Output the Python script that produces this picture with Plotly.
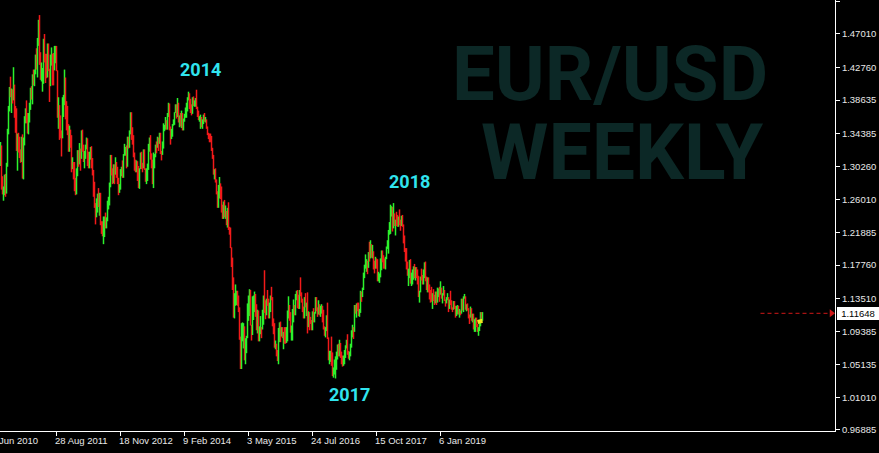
import plotly.graph_objects as go

# ---------------- data: EUR/USD weekly bars (open, high, low, close) ----------------
bars_2010 = [
    (1.3050, 1.3333, 1.3030, 1.3275), (1.3275, 1.3290, 1.2730, 1.2755), (1.2755, 1.2900, 1.2670, 1.2710),
    (1.2710, 1.2770, 1.2590, 1.2760), (1.2760, 1.2920, 1.2660, 1.2900), (1.2900, 1.2930, 1.2640, 1.2710),
    (1.2710, 1.3070, 1.2680, 1.3050), (1.3050, 1.3500, 1.3020, 1.3480), (1.3480, 1.3790, 1.3430, 1.3780),
    (1.3780, 1.4030, 1.3720, 1.3990), (1.3990, 1.4160, 1.3900, 1.3960), (1.3960, 1.4010, 1.3700, 1.3970),
    (1.3970, 1.4000, 1.3820, 1.3940), (1.3940, 1.4280, 1.3860, 1.4040), (1.4040, 1.4060, 1.3640, 1.3680),
    (1.3680, 1.3790, 1.3450, 1.3670), (1.3670, 1.3760, 1.3220, 1.3240), (1.3240, 1.3440, 1.2970, 1.3400),
    (1.3400, 1.3450, 1.3200, 1.3230), (1.3230, 1.3400, 1.3130, 1.3190), (1.3190, 1.3240, 1.3070, 1.3110),
    (1.3110, 1.3400, 1.3080, 1.3380),
]
bars_2011 = [
    (1.3380, 1.3430, 1.2870, 1.2910), (1.2910, 1.3390, 1.2860, 1.3380), (1.3380, 1.3660, 1.3290, 1.3610),
    (1.3610, 1.3760, 1.3570, 1.3630), (1.3630, 1.3860, 1.3570, 1.3580), (1.3580, 1.3700, 1.3440, 1.3490),
    (1.3490, 1.3700, 1.3430, 1.3690), (1.3690, 1.3830, 1.3580, 1.3750), (1.3750, 1.4020, 1.3740, 1.3990),
    (1.3990, 1.4040, 1.3870, 1.3900), (1.3900, 1.4190, 1.3810, 1.4180), (1.4180, 1.4250, 1.4050, 1.4090),
    (1.4090, 1.4250, 1.4040, 1.4230), (1.4230, 1.4440, 1.4190, 1.4440), (1.4440, 1.4520, 1.4250, 1.4430),
    (1.4430, 1.4650, 1.4150, 1.4580), (1.4580, 1.4880, 1.4550, 1.4810), (1.4810, 1.4940, 1.4310, 1.4320),
    (1.4320, 1.4470, 1.4120, 1.4130), (1.4130, 1.4340, 1.4100, 1.4140), (1.4140, 1.4270, 1.3970, 1.4250),
    (1.4250, 1.4640, 1.4070, 1.4640), (1.4640, 1.4700, 1.4340, 1.4350), (1.4350, 1.4450, 1.4080, 1.4310),
    (1.4310, 1.4450, 1.4140, 1.4180), (1.4180, 1.4580, 1.4150, 1.4530), (1.4530, 1.4580, 1.4230, 1.4260),
    (1.4260, 1.4260, 1.3840, 1.4150), (1.4150, 1.4440, 1.4040, 1.4390), (1.4390, 1.4530, 1.4300, 1.4400),
    (1.4400, 1.4450, 1.4050, 1.4280), (1.4280, 1.4460, 1.4050, 1.4240), (1.4240, 1.4550, 1.4240, 1.4390),
    (1.4390, 1.4550, 1.4330, 1.4490), (1.4490, 1.4550, 1.4230, 1.4230), (1.4230, 1.4240, 1.3640, 1.3650),
    (1.3650, 1.3900, 1.3500, 1.3790), (1.3790, 1.3800, 1.3360, 1.3500), (1.3500, 1.3670, 1.3380, 1.3390),
    (1.3390, 1.3480, 1.3150, 1.3380), (1.3380, 1.3900, 1.3380, 1.3880), (1.3880, 1.3930, 1.3650, 1.3900),
    (1.3900, 1.4250, 1.3800, 1.4150), (1.4150, 1.4150, 1.3620, 1.3790), (1.3790, 1.3850, 1.3480, 1.3760),
    (1.3760, 1.3790, 1.3420, 1.3520), (1.3520, 1.3560, 1.3210, 1.3240), (1.3240, 1.3540, 1.3210, 1.3390),
    (1.3390, 1.3490, 1.3260, 1.3380), (1.3380, 1.3420, 1.2950, 1.3040), (1.3040, 1.3140, 1.2990, 1.3060),
    (1.3060, 1.3080, 1.2860, 1.2960),
]
bars_2012 = [
    (1.2960, 1.3080, 1.2710, 1.2720), (1.2720, 1.2880, 1.2660, 1.2680), (1.2680, 1.3000, 1.2670, 1.2930),
    (1.2930, 1.3230, 1.2900, 1.3210), (1.3210, 1.3230, 1.3020, 1.3160), (1.3160, 1.3320, 1.3050, 1.3190),
    (1.3190, 1.3250, 1.2970, 1.3130), (1.3130, 1.3480, 1.3120, 1.3440), (1.3440, 1.3490, 1.3210, 1.3220),
    (1.3220, 1.3300, 1.3080, 1.3120), (1.3120, 1.3220, 1.3000, 1.3180), (1.3180, 1.3300, 1.3120, 1.3270),
    (1.3270, 1.3390, 1.3240, 1.3340), (1.3340, 1.3380, 1.3030, 1.3080), (1.3080, 1.3210, 1.3000, 1.3070),
    (1.3070, 1.3210, 1.3000, 1.3190), (1.3190, 1.3270, 1.3110, 1.3240), (1.3240, 1.3280, 1.3000, 1.3090),
    (1.3090, 1.3130, 1.2910, 1.2920), (1.2920, 1.2980, 1.2640, 1.2780), (1.2780, 1.2830, 1.2500, 1.2520),
    (1.2520, 1.2560, 1.2290, 1.2410), (1.2410, 1.2620, 1.2380, 1.2510), (1.2510, 1.2680, 1.2440, 1.2640),
    (1.2640, 1.2750, 1.2510, 1.2570), (1.2570, 1.2690, 1.2400, 1.2660), (1.2660, 1.2690, 1.2280, 1.2290),
    (1.2290, 1.2330, 1.2170, 1.2250), (1.2250, 1.2330, 1.2140, 1.2150), (1.2150, 1.2390, 1.2040, 1.2320),
    (1.2320, 1.2390, 1.2130, 1.2380), (1.2380, 1.2440, 1.2240, 1.2290), (1.2290, 1.2380, 1.2240, 1.2330),
    (1.2330, 1.2590, 1.2330, 1.2510), (1.2510, 1.2640, 1.2480, 1.2580), (1.2580, 1.2820, 1.2530, 1.2810),
    (1.2810, 1.3170, 1.2760, 1.3130), (1.3130, 1.3170, 1.2910, 1.2980), (1.2980, 1.3000, 1.2800, 1.2860),
    (1.2860, 1.3050, 1.2810, 1.3040), (1.3040, 1.3050, 1.2800, 1.2950), (1.2950, 1.3140, 1.2920, 1.2960),
    (1.2960, 1.3080, 1.2880, 1.2940), (1.2940, 1.3020, 1.2800, 1.2830), (1.2830, 1.2880, 1.2660, 1.2710),
    (1.2710, 1.2800, 1.2690, 1.2740), (1.2740, 1.2990, 1.2730, 1.2980), (1.2980, 1.3020, 1.2900, 1.2990),
    (1.2990, 1.3100, 1.2880, 1.2930), (1.2930, 1.3180, 1.2880, 1.3160), (1.3160, 1.3310, 1.3160, 1.3180),
    (1.3180, 1.3270, 1.3160, 1.3220), (1.3220, 1.3290, 1.3000, 1.3070),
]
bars_2013 = [
    (1.3070, 1.3400, 1.3020, 1.3340), (1.3340, 1.3400, 1.3250, 1.3310), (1.3310, 1.3480, 1.3260, 1.3460),
    (1.3460, 1.3710, 1.3430, 1.3640), (1.3640, 1.3710, 1.3360, 1.3370), (1.3370, 1.3520, 1.3300, 1.3360),
    (1.3360, 1.3420, 1.3140, 1.3190), (1.3190, 1.3200, 1.2970, 1.3020), (1.3020, 1.3110, 1.2950, 1.2990),
    (1.2990, 1.3100, 1.2950, 1.3080), (1.3080, 1.3090, 1.2840, 1.2990), (1.2990, 1.3030, 1.2750, 1.2820),
    (1.2820, 1.3000, 1.2740, 1.2990), (1.2990, 1.3200, 1.2990, 1.3110), (1.3110, 1.3210, 1.2990, 1.3050),
    (1.3050, 1.3070, 1.2950, 1.3030), (1.3030, 1.3240, 1.3000, 1.3110), (1.3110, 1.3240, 1.2980, 1.2990),
    (1.2990, 1.3000, 1.2830, 1.2840), (1.2840, 1.3000, 1.2800, 1.2940), (1.2940, 1.3060, 1.2840, 1.2990),
    (1.2990, 1.3310, 1.2980, 1.3220), (1.3220, 1.3390, 1.3210, 1.3340), (1.3340, 1.3420, 1.3110, 1.3120),
    (1.3120, 1.3190, 1.3000, 1.3010), (1.3010, 1.3110, 1.2800, 1.2830), (1.2830, 1.3200, 1.2750, 1.3070),
    (1.3070, 1.3180, 1.3000, 1.3140), (1.3140, 1.3300, 1.3140, 1.3280), (1.3280, 1.3340, 1.3190, 1.3275),
    (1.3275, 1.3400, 1.3260, 1.3340), (1.3340, 1.3390, 1.3220, 1.3330), (1.3330, 1.3450, 1.3310, 1.3380),
    (1.3380, 1.3450, 1.3180, 1.3190), (1.3190, 1.3220, 1.3100, 1.3180), (1.3180, 1.3340, 1.3170, 1.3300),
    (1.3300, 1.3570, 1.3250, 1.3520), (1.3520, 1.3550, 1.3470, 1.3525), (1.3525, 1.3650, 1.3490, 1.3560),
    (1.3560, 1.3610, 1.3490, 1.3550), (1.3550, 1.3700, 1.3490, 1.3680), (1.3680, 1.3830, 1.3650, 1.3800),
    (1.3800, 1.3820, 1.3480, 1.3490), (1.3490, 1.3530, 1.3300, 1.3370), (1.3370, 1.3500, 1.3370, 1.3500),
    (1.3500, 1.3560, 1.3400, 1.3555), (1.3555, 1.3620, 1.3540, 1.3590), (1.3590, 1.3710, 1.3550, 1.3700),
    (1.3700, 1.3810, 1.3700, 1.3740), (1.3740, 1.3810, 1.3630, 1.3670), (1.3670, 1.3890, 1.3650, 1.3740),
    (1.3740, 1.3830, 1.3580, 1.3590),
]
bars_2014 = [
    (1.3590, 1.3670, 1.3520, 1.3670), (1.3670, 1.3700, 1.3530, 1.3540), (1.3540, 1.3730, 1.3510, 1.3680),
    (1.3680, 1.3700, 1.3480, 1.3490), (1.3490, 1.3630, 1.3480, 1.3630), (1.3630, 1.3690, 1.3590, 1.3690),
    (1.3690, 1.3770, 1.3640, 1.3740), (1.3740, 1.3830, 1.3640, 1.3800), (1.3800, 1.3900, 1.3720, 1.3870),
    (1.3870, 1.3970, 1.3860, 1.3910), (1.3910, 1.3950, 1.3750, 1.3790), (1.3790, 1.3880, 1.3700, 1.3750),
    (1.3750, 1.3810, 1.3670, 1.3700), (1.3700, 1.3900, 1.3690, 1.3890), (1.3890, 1.3910, 1.3790, 1.3810),
    (1.3810, 1.3860, 1.3780, 1.3830), (1.3830, 1.3890, 1.3780, 1.3870), (1.3870, 1.3995, 1.3750, 1.3760),
    (1.3760, 1.3780, 1.3650, 1.3700), (1.3700, 1.3730, 1.3610, 1.3630), (1.3630, 1.3660, 1.3590, 1.3635),
    (1.3635, 1.3680, 1.3500, 1.3640), (1.3640, 1.3650, 1.3520, 1.3540), (1.3540, 1.3620, 1.3500, 1.3610),
    (1.3610, 1.3680, 1.3560, 1.3640), (1.3640, 1.3700, 1.3590, 1.3590), (1.3590, 1.3650, 1.3580, 1.3610),
    (1.3610, 1.3620, 1.3500, 1.3520), (1.3520, 1.3530, 1.3420, 1.3430), (1.3430, 1.3450, 1.3370, 1.3425),
    (1.3425, 1.3440, 1.3330, 1.3410), (1.3410, 1.3440, 1.3330, 1.3400), (1.3400, 1.3410, 1.3220, 1.3240),
    (1.3240, 1.3260, 1.3120, 1.3130), (1.3130, 1.3170, 1.2920, 1.2950), (1.2950, 1.2990, 1.2860, 1.2960),
    (1.2960, 1.3000, 1.2820, 1.2830), (1.2830, 1.2860, 1.2670, 1.2680), (1.2680, 1.2710, 1.2500, 1.2520),
    (1.2520, 1.2790, 1.2500, 1.2620), (1.2620, 1.2890, 1.2620, 1.2760), (1.2760, 1.2810, 1.2610, 1.2670),
    (1.2670, 1.2770, 1.2440, 1.2450), (1.2450, 1.2540, 1.2360, 1.2440), (1.2440, 1.2580, 1.2360, 1.2530),
    (1.2530, 1.2600, 1.2380, 1.2390), (1.2390, 1.2530, 1.2360, 1.2450), (1.2450, 1.2460, 1.2280, 1.2290),
    (1.2290, 1.2500, 1.2250, 1.2460), (1.2460, 1.2570, 1.2220, 1.2230), (1.2230, 1.2260, 1.2160, 1.2180),
    (1.2180, 1.2250, 1.1990, 1.2000),
]
bars_2015 = [
    (1.2000, 1.2000, 1.1750, 1.1840), (1.1840, 1.1870, 1.1460, 1.1560), (1.1560, 1.1620, 1.1110, 1.1200),
    (1.1200, 1.1420, 1.1100, 1.1290), (1.1290, 1.1530, 1.1260, 1.1310), (1.1310, 1.1450, 1.1270, 1.1390),
    (1.1390, 1.1450, 1.1260, 1.1380), (1.1380, 1.1390, 1.1180, 1.1190), (1.1190, 1.1240, 1.0830, 1.0840),
    (1.0840, 1.0870, 1.0460, 1.0500), (1.0500, 1.1040, 1.0460, 1.0820), (1.0820, 1.1050, 1.0810, 1.0890),
    (1.0890, 1.1040, 1.0720, 1.0970), (1.0970, 1.1000, 1.0570, 1.0600), (1.0600, 1.0850, 1.0520, 1.0810),
    (1.0810, 1.0880, 1.0660, 1.0870), (1.0870, 1.1290, 1.0850, 1.1200), (1.1200, 1.1390, 1.1070, 1.1205),
    (1.1205, 1.1470, 1.1130, 1.1450), (1.1450, 1.1460, 1.1010, 1.1020), (1.1020, 1.1020, 1.0820, 1.0990),
    (1.0990, 1.1380, 1.0890, 1.1110), (1.1110, 1.1390, 1.1080, 1.1260), (1.1260, 1.1440, 1.1180, 1.1350),
    (1.1350, 1.1410, 1.1120, 1.1160), (1.1160, 1.1280, 1.0950, 1.1100), (1.1100, 1.1210, 1.0910, 1.1160),
    (1.1160, 1.1200, 1.0810, 1.0820), (1.0820, 1.1000, 1.0810, 1.0980), (1.0980, 1.1130, 1.0900, 1.0985),
    (1.0985, 1.0990, 1.0850, 1.0970), (1.0970, 1.1210, 1.0960, 1.1100), (1.1100, 1.1390, 1.1020, 1.1390),
    (1.1390, 1.1710, 1.1170, 1.1180), (1.1180, 1.1330, 1.1090, 1.1150), (1.1150, 1.1350, 1.1140, 1.1340),
    (1.1340, 1.1460, 1.1260, 1.1300), (1.1300, 1.1350, 1.1100, 1.1200), (1.1200, 1.1300, 1.1100, 1.1210),
    (1.1210, 1.1390, 1.1180, 1.1360), (1.1360, 1.1500, 1.1330, 1.1350), (1.1350, 1.1370, 1.1000, 1.1010),
    (1.1010, 1.1100, 1.0900, 1.1000), (1.1000, 1.1040, 1.0730, 1.0740), (1.0740, 1.0820, 1.0710, 1.0770),
    (1.0770, 1.0780, 1.0620, 1.0650), (1.0650, 1.0700, 1.0560, 1.0590), (1.0590, 1.0980, 1.0520, 1.0880),
    (1.0880, 1.1050, 1.0800, 1.0990), (1.0990, 1.1060, 1.0800, 1.0870), (1.0870, 1.0990, 1.0870, 1.0970),
    (1.0970, 1.0990, 1.0850, 1.0860),
]
bars_2016 = [
    (1.0860, 1.0930, 1.0710, 1.0920), (1.0920, 1.0990, 1.0780, 1.0915), (1.0915, 1.0990, 1.0780, 1.0800),
    (1.0800, 1.0990, 1.0790, 1.0830), (1.0830, 1.1200, 1.0810, 1.1160), (1.1160, 1.1380, 1.1100, 1.1250),
    (1.1250, 1.1270, 1.1070, 1.1130), (1.1130, 1.1180, 1.0920, 1.0930), (1.0930, 1.1010, 1.0820, 1.1000),
    (1.1000, 1.1220, 1.0820, 1.1150), (1.1150, 1.1340, 1.1050, 1.1270), (1.1270, 1.1270, 1.1140, 1.1170),
    (1.1170, 1.1410, 1.1140, 1.1390), (1.1390, 1.1450, 1.1330, 1.1400), (1.1400, 1.1460, 1.1230, 1.1280),
    (1.1280, 1.1400, 1.1220, 1.1230), (1.1230, 1.1460, 1.1220, 1.1450), (1.1450, 1.1620, 1.1380, 1.1400),
    (1.1400, 1.1430, 1.1300, 1.1310), (1.1310, 1.1350, 1.1180, 1.1220), (1.1220, 1.1250, 1.1100, 1.1110),
    (1.1110, 1.1370, 1.1100, 1.1370), (1.1370, 1.1420, 1.1240, 1.1250), (1.1250, 1.1300, 1.1130, 1.1280),
    (1.1280, 1.1430, 1.0910, 1.1120), (1.1120, 1.1190, 1.0990, 1.1140), (1.1140, 1.1180, 1.0950, 1.1050),
    (1.1050, 1.1120, 1.1030, 1.1040), (1.1040, 1.1080, 1.0950, 1.0970), (1.0970, 1.1190, 1.0950, 1.1170),
    (1.1170, 1.1230, 1.1050, 1.1090), (1.1090, 1.1180, 1.1050, 1.1160), (1.1160, 1.1370, 1.1160, 1.1320),
    (1.1320, 1.1370, 1.1190, 1.1200), (1.1200, 1.1240, 1.1120, 1.1150), (1.1150, 1.1330, 1.1150, 1.1230),
    (1.1230, 1.1280, 1.1140, 1.1150), (1.1150, 1.1260, 1.1120, 1.1230), (1.1230, 1.1280, 1.1160, 1.1240),
    (1.1240, 1.1260, 1.1050, 1.1200), (1.1200, 1.1210, 1.0960, 1.0970), (1.0970, 1.1000, 1.0880, 1.0890),
    (1.0890, 1.0990, 1.0860, 1.0980), (1.0980, 1.1140, 1.0940, 1.1120), (1.1120, 1.1300, 1.0840, 1.0850),
    (1.0850, 1.0860, 1.0570, 1.0580), (1.0580, 1.0690, 1.0520, 1.0590), (1.0590, 1.0690, 1.0550, 1.0660),
    (1.0660, 1.0870, 1.0500, 1.0560), (1.0560, 1.0670, 1.0370, 1.0450), (1.0450, 1.0480, 1.0350, 1.0455),
    (1.0455, 1.0580, 1.0390, 1.0520),
]
bars_2017 = [
    (1.0520, 1.0620, 1.0340, 1.0530), (1.0530, 1.0680, 1.0450, 1.0640), (1.0640, 1.0770, 1.0580, 1.0700),
    (1.0700, 1.0780, 1.0620, 1.0695), (1.0695, 1.0830, 1.0620, 1.0780), (1.0780, 1.0790, 1.0600, 1.0640),
    (1.0640, 1.0680, 1.0520, 1.0610), (1.0610, 1.0630, 1.0490, 1.0560), (1.0560, 1.0630, 1.0500, 1.0620),
    (1.0620, 1.0700, 1.0520, 1.0670), (1.0670, 1.0760, 1.0600, 1.0740), (1.0740, 1.0830, 1.0720, 1.0800),
    (1.0800, 1.0900, 1.0640, 1.0650), (1.0650, 1.0690, 1.0590, 1.0600), (1.0600, 1.0680, 1.0570, 1.0620),
    (1.0620, 1.0780, 1.0620, 1.0730), (1.0730, 1.0950, 1.0730, 1.0890), (1.0890, 1.1020, 1.0860, 1.0990),
    (1.0990, 1.0990, 1.0840, 1.0930), (1.0930, 1.1270, 1.0930, 1.1210), (1.1210, 1.1270, 1.1160, 1.1170),
    (1.1170, 1.1290, 1.1110, 1.1280), (1.1280, 1.1300, 1.1190, 1.1200), (1.1200, 1.1300, 1.1130, 1.1195),
    (1.1195, 1.1220, 1.1120, 1.1200), (1.1200, 1.1450, 1.1170, 1.1420), (1.1420, 1.1440, 1.1310, 1.1400),
    (1.1400, 1.1490, 1.1370, 1.1470), (1.1470, 1.1680, 1.1460, 1.1660), (1.1660, 1.1780, 1.1610, 1.1750),
    (1.1750, 1.1910, 1.1730, 1.1770), (1.1770, 1.1850, 1.1690, 1.1820), (1.1820, 1.1830, 1.1660, 1.1760),
    (1.1760, 1.1940, 1.1740, 1.1920), (1.1920, 1.2070, 1.1820, 1.1860), (1.1860, 1.2090, 1.1860, 1.2030),
    (1.2030, 1.2040, 1.1870, 1.1940), (1.1940, 1.2030, 1.1860, 1.1950), (1.1950, 1.1950, 1.1720, 1.1820),
    (1.1820, 1.1830, 1.1670, 1.1730), (1.1730, 1.1880, 1.1730, 1.1820), (1.1820, 1.1860, 1.1730, 1.1780),
    (1.1780, 1.1850, 1.1570, 1.1600), (1.1600, 1.1690, 1.1570, 1.1610), (1.1610, 1.1670, 1.1550, 1.1660),
    (1.1660, 1.1860, 1.1620, 1.1790), (1.1790, 1.1960, 1.1710, 1.1930), (1.1930, 1.1960, 1.1810, 1.1900),
    (1.1900, 1.1900, 1.1730, 1.1770), (1.1770, 1.1860, 1.1730, 1.1750), (1.1750, 1.1880, 1.1720, 1.1860),
    (1.1860, 1.2010, 1.1850, 1.2000),
]
bars_2018 = [
    (1.2000, 1.2090, 1.1980, 1.2030), (1.2030, 1.2220, 1.1920, 1.2200), (1.2200, 1.2320, 1.2160, 1.2220),
    (1.2220, 1.2540, 1.2170, 1.2430), (1.2430, 1.2520, 1.2390, 1.2460), (1.2460, 1.2510, 1.2200, 1.2250),
    (1.2250, 1.2560, 1.2240, 1.2410), (1.2410, 1.2430, 1.2270, 1.2300), (1.2300, 1.2350, 1.2150, 1.2310),
    (1.2310, 1.2450, 1.2270, 1.2305), (1.2305, 1.2410, 1.2260, 1.2290), (1.2290, 1.2390, 1.2260, 1.2350),
    (1.2350, 1.2480, 1.2280, 1.2320), (1.2320, 1.2350, 1.2210, 1.2280), (1.2280, 1.2400, 1.2270, 1.2330),
    (1.2330, 1.2410, 1.2260, 1.2290), (1.2290, 1.2290, 1.2050, 1.2130), (1.2130, 1.2150, 1.1940, 1.1960),
    (1.1960, 1.1990, 1.1820, 1.1940), (1.1940, 1.1990, 1.1720, 1.1770), (1.1770, 1.1820, 1.1640, 1.1650),
    (1.1650, 1.1730, 1.1510, 1.1660), (1.1660, 1.1840, 1.1610, 1.1770), (1.1770, 1.1850, 1.1540, 1.1610),
    (1.1610, 1.1680, 1.1510, 1.1650), (1.1650, 1.1720, 1.1530, 1.1680), (1.1680, 1.1760, 1.1590, 1.1740),
    (1.1740, 1.1790, 1.1610, 1.1680), (1.1680, 1.1750, 1.1580, 1.1720), (1.1720, 1.1750, 1.1610, 1.1660),
    (1.1660, 1.1720, 1.1530, 1.1570), (1.1570, 1.1640, 1.1370, 1.1410), (1.1410, 1.1450, 1.1300, 1.1440),
    (1.1440, 1.1630, 1.1430, 1.1620), (1.1620, 1.1730, 1.1580, 1.1600), (1.1600, 1.1650, 1.1530, 1.1550),
    (1.1550, 1.1720, 1.1530, 1.1620), (1.1620, 1.1810, 1.1610, 1.1750), (1.1750, 1.1820, 1.1570, 1.1600),
    (1.1600, 1.1630, 1.1460, 1.1520), (1.1520, 1.1620, 1.1430, 1.1560), (1.1560, 1.1620, 1.1430, 1.1510),
    (1.1510, 1.1530, 1.1340, 1.1400), (1.1400, 1.1460, 1.1300, 1.1390), (1.1390, 1.1500, 1.1310, 1.1330),
    (1.1330, 1.1420, 1.1220, 1.1420), (1.1420, 1.1470, 1.1320, 1.1340), (1.1340, 1.1400, 1.1270, 1.1320),
    (1.1320, 1.1440, 1.1290, 1.1380), (1.1380, 1.1440, 1.1270, 1.1300), (1.1300, 1.1490, 1.1300, 1.1370),
    (1.1370, 1.1480, 1.1370, 1.1440),
]
bars_2019 = [
    (1.1440, 1.1500, 1.1310, 1.1400), (1.1400, 1.1570, 1.1400, 1.1470), (1.1470, 1.1490, 1.1350, 1.1360),
    (1.1360, 1.1420, 1.1290, 1.1410), (1.1410, 1.1510, 1.1390, 1.1450), (1.1450, 1.1460, 1.1320, 1.1330),
    (1.1330, 1.1340, 1.1250, 1.1290), (1.1290, 1.1370, 1.1290, 1.1330), (1.1330, 1.1420, 1.1330, 1.1370),
    (1.1370, 1.1370, 1.1180, 1.1240), (1.1240, 1.1340, 1.1220, 1.1330), (1.1330, 1.1450, 1.1270, 1.1300),
    (1.1300, 1.1330, 1.1210, 1.1220), (1.1220, 1.1240, 1.1180, 1.1215), (1.1215, 1.1320, 1.1210, 1.1300),
    (1.1300, 1.1320, 1.1220, 1.1250), (1.1250, 1.1260, 1.1110, 1.1150), (1.1150, 1.1260, 1.1130, 1.1170),
    (1.1170, 1.1270, 1.1150, 1.1230), (1.1230, 1.1260, 1.1150, 1.1160), (1.1160, 1.1220, 1.1110, 1.1200),
    (1.1200, 1.1200, 1.1140, 1.1170), (1.1170, 1.1350, 1.1160, 1.1330), (1.1330, 1.1350, 1.1200, 1.1210),
    (1.1210, 1.1380, 1.1180, 1.1370), (1.1370, 1.1410, 1.1350, 1.1375), (1.1375, 1.1380, 1.1210, 1.1220),
    (1.1220, 1.1280, 1.1190, 1.1270), (1.1270, 1.1290, 1.1200, 1.1220), (1.1220, 1.1230, 1.1100, 1.1130),
    (1.1130, 1.1150, 1.1030, 1.1110), (1.1110, 1.1250, 1.1110, 1.1200), (1.1200, 1.1230, 1.1070, 1.1090),
    (1.1090, 1.1160, 1.1050, 1.1140), (1.1140, 1.1160, 1.0960, 1.0990), (1.0990, 1.1090, 1.0930, 1.1030),
    (1.1030, 1.1110, 1.0930, 1.1070), (1.1070, 1.1110, 1.0990, 1.1020), (1.1020, 1.1030, 1.0930, 1.0940),
    (1.0940, 1.0990, 1.0880, 1.0980), (1.0980, 1.1060, 1.0940, 1.1040), (1.1040, 1.1180, 1.1000, 1.1170),
    (1.1170, 1.1180, 1.1070, 1.1080), (1.1080, 1.1180, 1.1070, 1.1165),
]

# price-axis ticks (right scale) and date ticks (bar index -> label)
price_ticks = [0.96885, 1.01010, 1.05135, 1.09385, 1.13510, 1.17760, 1.21885,
               1.26010, 1.30260, 1.34385, 1.38635, 1.42760, 1.47010, 1.51135]
date_tick_index = [-8, 56, 120, 184, 248, 312, 376, 440]
date_tick_text = ["6 Jun 2010", "28 Aug 2011", "18 Nov 2012", "9 Feb 2014",
                  "3 May 2015", "24 Jul 2016", "15 Oct 2017", "6 Jan 2019"]

last_price = 1.11648
year_labels = ["2014", "2018", "2017"]
year_label_index = [200, 409, 349]
year_label_price = [1.4257, 1.2827, 1.0143]
marker_x = [477, 482]
marker_y = [1.1055, 1.1070]
alert_line_x = [760, 829]

# ---------------- assemble ----------------
all_bars = bars_2010 + bars_2011 + bars_2012 + bars_2013 + bars_2014 + bars_2015 + bars_2016 + bars_2017 + bars_2018 + bars_2019
idx = list(range(len(all_bars)))
o = [b[0] for b in all_bars]
h = [b[1] for b in all_bars]
l = [b[2] for b in all_bars]
c = [b[3] for b in all_bars]

GREEN = "#2cf22c"
RED = "#f21a1a"
FONT = "Liberation Sans"

fig = go.Figure()
fig.add_trace(go.Ohlc(
    x=idx, open=o, high=h, low=l, close=c,
    increasing=dict(line=dict(color=GREEN, width=1.5)),
    decreasing=dict(line=dict(color=RED, width=1.5)),
    tickwidth=0, hoverinfo="skip", showlegend=False,
))
# small yellow marker on last bar
fig.add_trace(go.Scatter(x=marker_x, y=marker_y, mode="lines",
                         line=dict(color="#f0e020", width=4), hoverinfo="skip", showlegend=False))
# red dashed alert line with arrow
fig.add_trace(go.Scatter(x=alert_line_x, y=[last_price, last_price], mode="lines",
                         line=dict(color="#d01818", width=1, dash="4px,3px"), hoverinfo="skip", showlegend=False))
fig.add_trace(go.Scatter(x=[alert_line_x[1] + 2], y=[last_price], mode="markers",
                         marker=dict(symbol="triangle-right", size=7, color="#d01818"),
                         hoverinfo="skip", showlegend=False, cliponaxis=False))

PLOT_W = 835
PLOT_H = 431
annotations = []
# watermark
annotations.append(dict(text="<b>EUR/USD</b>", xref="paper", yref="paper", x=610 / PLOT_W, y=1 - 74 / PLOT_H,
                        showarrow=False, font=dict(family="Roboto", size=76, color="#0c2826"),
                        xanchor="center", yanchor="middle", borderpad=0))
annotations.append(dict(text="<b>WEEKLY</b>", xref="paper", yref="paper", x=622 / PLOT_W, y=1 - 153 / PLOT_H,
                        showarrow=False, font=dict(family="Roboto", size=77, color="#0c2826"),
                        xanchor="center", yanchor="middle", borderpad=0))
# year labels
for t, xi, yp in zip(year_labels, year_label_index, year_label_price):
    annotations.append(dict(text="<b>" + t + "</b>", x=xi, y=yp, xref="x", yref="y", showarrow=False,
                            font=dict(family="Roboto", size=18, color="#30e4ee"),
                            xanchor="center", yanchor="middle"))
# date labels (left aligned at tick, MT4 style)
for ti, tt in zip(date_tick_index, date_tick_text):
    annotations.append(dict(text=tt, xref="paper", yref="paper", x=(ti - 1) / PLOT_W, y=0,
                            yshift=-4, showarrow=False, xanchor="left", yanchor="top",
                            borderpad=0, borderwidth=0,
                            font=dict(family=FONT, size=9.5, color="#e8e8e8")))
# last price box
annotations.append(dict(text=f"{last_price:.5f}", xref="paper", yref="y", x=837 / PLOT_W, y=last_price,
                        showarrow=False, xanchor="left", yanchor="middle", bgcolor="#ffffff",
                        borderpad=1, borderwidth=0, width=40,
                        font=dict(family=FONT, size=9.5, color="#000000")))

fig.update_layout(
    width=879, height=453,
    margin=dict(l=0, r=44, t=0, b=22),
    paper_bgcolor="#000000", plot_bgcolor="#000000",
    showlegend=False,
    annotations=annotations,
    xaxis=dict(range=[-0.5, PLOT_W - 0.5], showgrid=False, zeroline=False,
               showline=True, linecolor="#ffffff", linewidth=1,
               tickmode="array", tickvals=date_tick_index, ticktext=[""] * len(date_tick_index),
               ticks="outside", ticklen=4, tickcolor="#ffffff", tickwidth=1,
               showticklabels=False, rangeslider=dict(visible=False), fixedrange=True),
    yaxis=dict(range=[0.9675, 0.9675 + PLOT_H / 790.0], side="right", showgrid=False, zeroline=False,
               showline=True, linecolor="#ffffff", linewidth=1,
               tickmode="array", tickvals=price_ticks, ticktext=[f"{p:.5f}" for p in price_ticks],
               ticks="outside", ticklen=4, tickcolor="#ffffff", tickwidth=1,
               tickfont=dict(family=FONT, size=9.5, color="#e8e8e8"), fixedrange=True),
)

fig.write_html(
    "out.html",
    config={"displayModeBar": False},
    post_script="document.body.style.margin='0';document.body.style.background='#000';",
)
